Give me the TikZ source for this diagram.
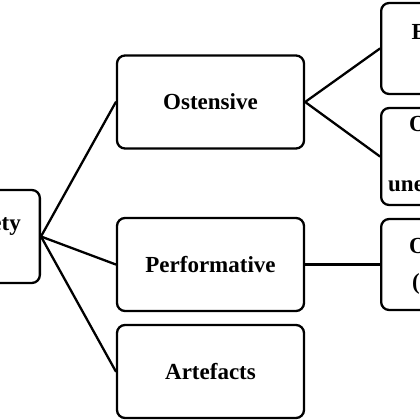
\documentclass[tikz,border=0pt]{standalone}
\usepackage{fontspec}
\setmainfont{Liberation Serif}
\begin{document}
\begin{tikzpicture}[x=1pt,y=-1pt,
  box/.style={draw=black,line width=2.3pt,rounded corners=8pt,fill=white,
    font=\fontsize{23}{28}\selectfont\bfseries,inner sep=0pt},
  mid/.style={box,minimum width=187pt,minimum height=93pt},
  rbox/.style={box,minimum width=150pt,anchor=west},
  lab/.style={font=\fontsize{23}{28}\selectfont\bfseries,inner sep=0pt,anchor=base west},
  conn/.style={line width=2.3pt,line cap=round}]
\useasboundingbox (0,0) rectangle (420,420);
\clip (0,0) rectangle (420,420);
% left box
\node[box,minimum width=120pt,minimum height=93pt,anchor=east] (L) at (41,236.5) {};
\node[font=\fontsize{23}{28}\selectfont\bfseries,inner sep=0pt,anchor=base east] (Ltxt) at (21,230) {Variety};
% middle column
\node[mid] (O) at (210.5,102) {Ostensive};
\node[mid] (P) at (210.5,264.5) {Performative};
\node[mid] (A) at (210.5,371.5) {Artefacts};
% right column
\node[rbox,minimum height=91pt] (R1) at (380,48.5) {};
\node[rbox,minimum height=97pt] (R2) at (380,156.5) {};
\node[rbox,minimum height=91pt] (R3) at (380,264.5) {};
\node[lab] (R1a) at (411.5,40) {Explicit};
\node[lab] (R2a) at (409,131) {Objectives};
\node[lab] (R2c) at (388,191) {unexpressed};
\node[lab] (R3a) at (409,253) {Observable};
\node[lab] (R3b) at (412,289) {(actions)};
% connectors
\draw[conn] (L.east) -- (O.west);
\draw[conn] (L.east) -- (P.west);
\draw[conn] (L.east) -- (A.west);
\draw[conn] (O.east) -- (R1.west);
\draw[conn] (O.east) -- (R2.west);
\draw[conn] (P.east) -- (R3.west);
\end{tikzpicture}
\end{document}
